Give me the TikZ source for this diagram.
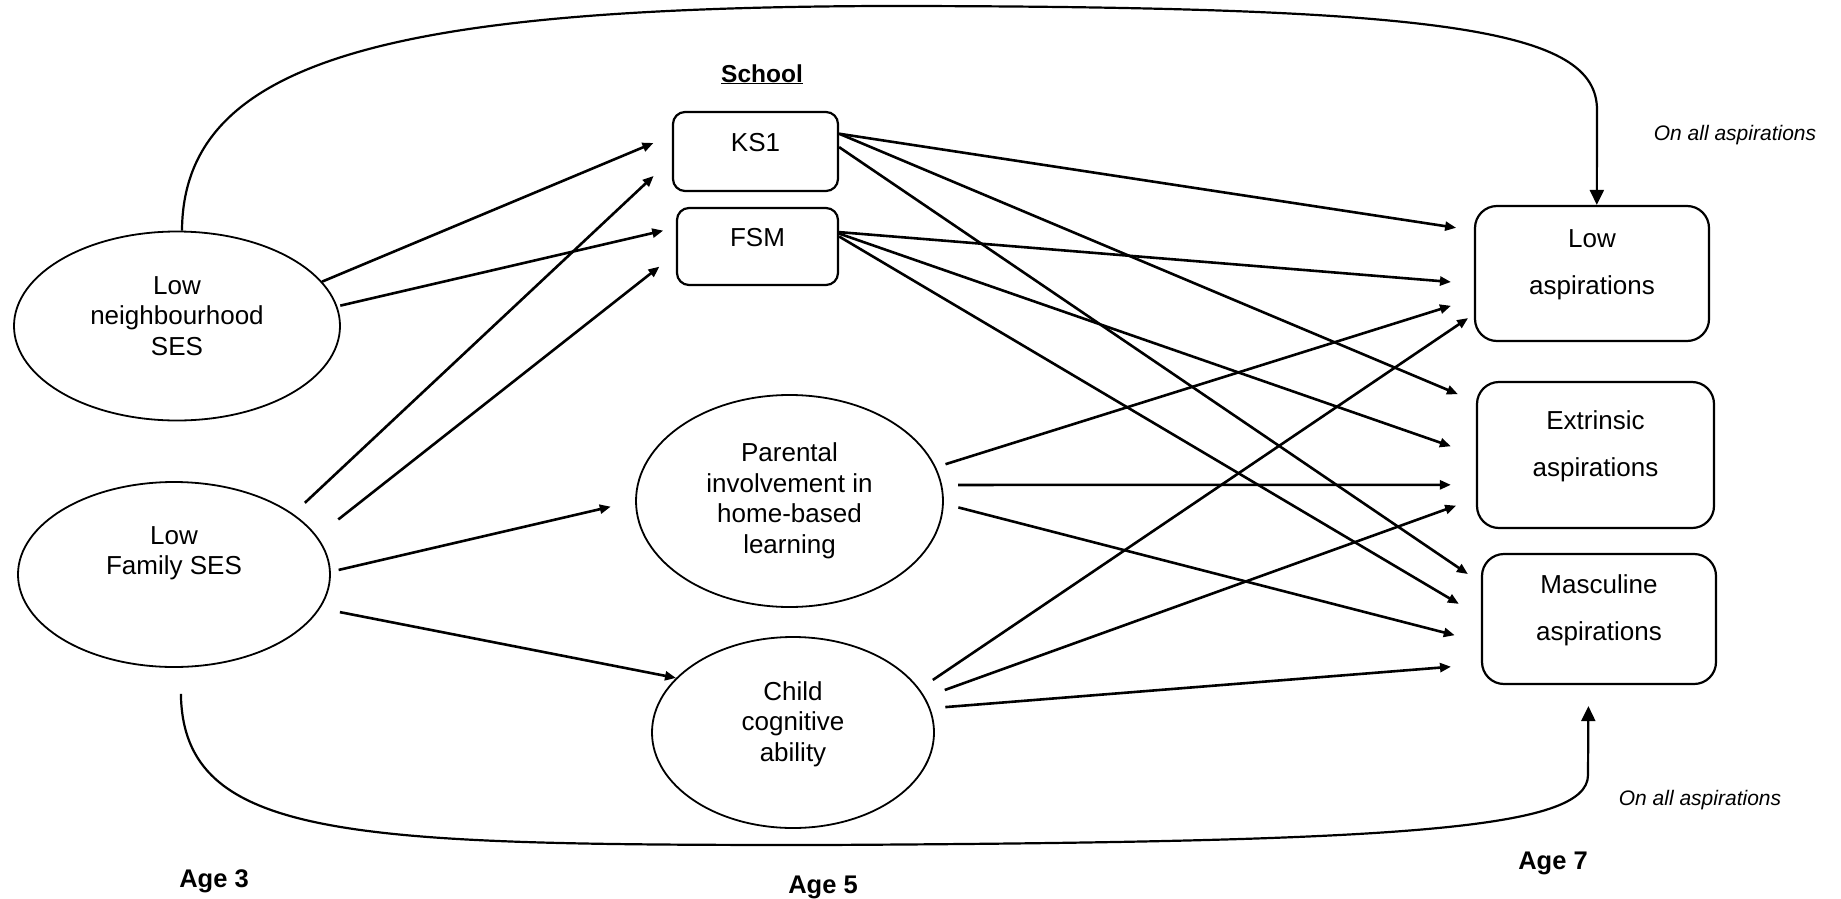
\documentclass[tikz,border=0pt]{standalone}
\usepackage{fontspec}
\setmainfont{Liberation Sans}
\usetikzlibrary{arrows.meta,shapes.geometric}
\tikzset{
  every node/.style={font=\fontsize{26}{30.5}\selectfont, align=center},
  factor/.style={ellipse, draw, line width=1.8pt, inner sep=0pt},
  schoolbox/.style={rectangle, draw, rounded corners=12pt, line width=2.2pt, text height=18.5pt, text depth=18.5pt},
  outbox/.style={rectangle, draw, rounded corners=22pt, line width=2.2pt, font=\fontsize{26}{47}\selectfont},
  effect/.style={-{Triangle[length=11pt,width=9pt]}, line width=2.6pt},
  allpath/.style={-{Triangle[length=15pt,width=14pt]}, line width=2.2pt},
  agelabel/.style={font=\fontsize{25.5}{30}\selectfont\bfseries, anchor=base},
  sidenote/.style={font=\fontsize{21}{25}\selectfont\itshape, anchor=base},
}
\begin{document}
\begin{tikzpicture}[x=1pt, y=-1pt]
\useasboundingbox (0,0) rectangle (1841,899);
% age 3
\node[factor, minimum width=326pt, minimum height=189pt] (nbh) at (177,326) {Low\\neighbourhood\\SES\\[-10pt]\mbox{}};
\node[factor, minimum width=312pt, minimum height=185pt] (fam) at (174,574.5) {Low\\Family SES\\[17pt]\mbox{}};
% age 5
\node[agelabel, font=\fontsize{24.5}{29}\selectfont\bfseries] (school) at (762,82) {\underline{School}};
\node[schoolbox, minimum width=165pt, minimum height=79pt] (ks1) at (755.5,151.5) {KS1};
\node[schoolbox, minimum width=161pt, minimum height=77pt] (fsm) at (757.5,246.5) {FSM};
\node[factor, minimum width=307pt, minimum height=212pt] (par) at (789.5,501) {Parental\\involvement in\\home-based\\learning};
\node[factor, minimum width=282pt, minimum height=191pt] (cog) at (793,732.5) {Child\\cognitive\\ability\\[-8pt]\mbox{}};
% age 7
\node[outbox, minimum width=234pt, minimum height=135pt] (low) at (1592,273.5) {Low\\aspirations\\[-24pt]\mbox{}};
\node[outbox, minimum width=237pt, minimum height=146pt] (ext) at (1595.5,455) {Extrinsic\\aspirations\\[-24pt]\mbox{}};
\node[outbox, minimum width=234pt, minimum height=130pt] (mas) at (1599,619) {Masculine\\aspirations\\[-24pt]\mbox{}};
\node[sidenote] (notetop) at (1735,140) {On all aspirations};
\node[sidenote] (notebot) at (1700,805) {On all aspirations};
\node[agelabel] (age3) at (214,887) {Age 3};
\node[agelabel] (age5) at (823,893) {Age 5};
\node[agelabel] (age7) at (1553,869) {Age 7};

% SES to school and mediators
\draw[effect, shorten >=20pt] (nbh.17) -- (ks1.169.5);
\draw[effect, shorten <=3pt, shorten >=13pt] (nbh.7) -- (fsm.167);
\draw[effect, shorten <=16pt, shorten >=25pt] (fam.27.4) -- (ks1.185.3);
\draw[effect, shorten <=27pt, shorten >=21pt] (fam.15.6) -- (fsm.185.3);
\draw[effect, shorten <=8pt, shorten >=25pt] (fam.1) -- (par.180.5);
\draw[effect, shorten <=20pt] (fam.-13.5) -- (cog.155);

% age 5 to aspirations
\draw[effect, shorten >=18pt] (ks1.12.6) -- (low.160.8);
\draw[effect, shorten >=19.5pt] (ks1.12) -- (ext.156.1);
\draw[effect, shorten >=15.7pt] (ks1.3) -- (mas.163.8);
\draw[effect, shorten >=23pt] (fsm.10.2) -- (low.185.6);
\draw[effect, shorten >=26.5pt] (fsm.9.5) -- (ext.180.3);
\draw[effect, shorten >=25.6pt] (fsm.7.4) -- (mas.179.5);
\draw[effect, shorten <=10pt, shorten >=24pt] (par.13.8) -- (low.192.3);
\draw[effect, shorten <=16pt, shorten >=25pt] (par.6.5) -- (ext.194.4);
\draw[effect, shorten <=15pt, shorten >=27pt] (par.-1.7) -- (mas.191);
\draw[effect, shorten <=16pt, shorten >=7pt] (cog.19) -- (low.199.1);
\draw[effect, shorten <=21pt, shorten >=21pt] (cog.15.4) -- (ext.200.3);
\draw[effect, shorten <=15pt, shorten >=30pt] (cog.10.7) -- (mas.201);

% direct paths on all aspirations
\draw[allpath] (nbh.87) .. controls (183,60) and (390,8) .. (880,6)
  .. controls (1450,6) and (1597,30) .. (1597,110) -- (low.86);
\draw[allpath, shorten <=26pt, shorten >=21pt] (fam.-86) .. controls (183,840) and (350,845) .. (822,845)
  .. controls (1400,842) and (1588,830) .. (1588,775) -- (mas.-99.6);
\end{tikzpicture}
\end{document}
